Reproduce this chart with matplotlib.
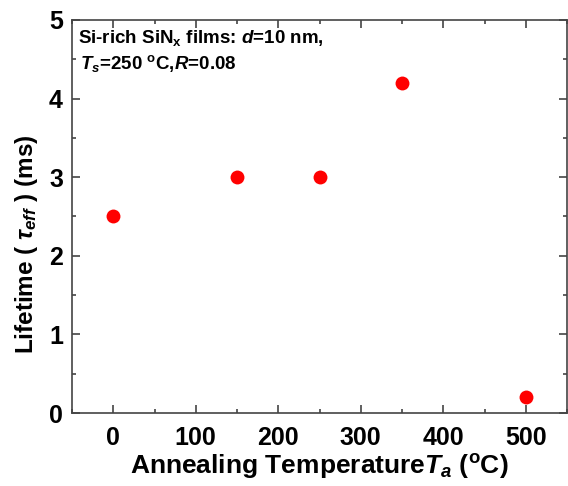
import matplotlib
matplotlib.use("Agg")
import matplotlib.pyplot as plt
from matplotlib.ticker import MultipleLocator

temperature = [0, 150, 250, 350, 500]
lifetime = [2.5, 3.0, 3.0, 4.2, 0.2]

plt.rcParams['font.family'] = ['Liberation Sans', 'DejaVu Sans']
plt.rcParams['mathtext.fontset'] = 'custom'
plt.rcParams['mathtext.rm'] = 'Liberation Sans:bold'
plt.rcParams['mathtext.it'] = 'Liberation Sans:bold:italic'
plt.rcParams['mathtext.bf'] = 'Liberation Sans:bold'

fig = plt.figure(figsize=(5.68, 4.86), dpi=100)
ax = fig.add_axes([72/568, (486-413)/486, (567-72)/568, (413-20)/486])

ax.plot(temperature, lifetime, 'o', color='#ff0000', markersize=10, markeredgewidth=0)

ax.set_xlim(-50, 550)
ax.set_ylim(0, 5)
ax.xaxis.set_major_locator(MultipleLocator(100))
ax.xaxis.set_minor_locator(MultipleLocator(50))
ax.yaxis.set_major_locator(MultipleLocator(1))
ax.yaxis.set_minor_locator(MultipleLocator(0.5))
ax.tick_params(which='both', direction='in', top=True, right=True, width=1.2, color='#444444')
ax.tick_params(which='major', length=6, labelsize=18)
ax.tick_params(which='minor', length=3)
ax.tick_params(axis='x', which='major', pad=9)
ax.tick_params(axis='y', which='major', pad=6.5)
for lab in ax.get_xticklabels() + ax.get_yticklabels():
    lab.set_fontweight('bold')
for s in ax.spines.values():
    s.set_linewidth(1.2)
    s.set_color('#444444')

ax.set_xlabel(r'Annealing Temperature$\mathit{T}_{a}$ ($^{\mathrm{o}}$C)', fontsize=19, fontweight='bold')
ax.set_ylabel(r'Lifetime ( $\tau_{\mathit{eff}}$ ) (ms)', fontsize=17.5, fontweight='bold')
ax.xaxis.set_label_coords(0.5, (413-452)/393)
ax.yaxis.set_label_coords((40-72)/495, (413-244)/393)

ax.text(0.012, (413-38)/393, r'Si-rich SiN$_{\mathrm{x}}$ films: $\mathit{d}$=10 nm,', transform=ax.transAxes,
        fontsize=13.5, fontweight='bold', va='center', ha='left')
ax.text(0.016, (413-64)/393, r'$\mathit{T}_{s}$=250 $^{\mathrm{o}}$C,$\mathit{R}$=0.08', transform=ax.transAxes,
        fontsize=13.5, fontweight='bold', va='center', ha='left')

fig.savefig('out.png', dpi=100)
